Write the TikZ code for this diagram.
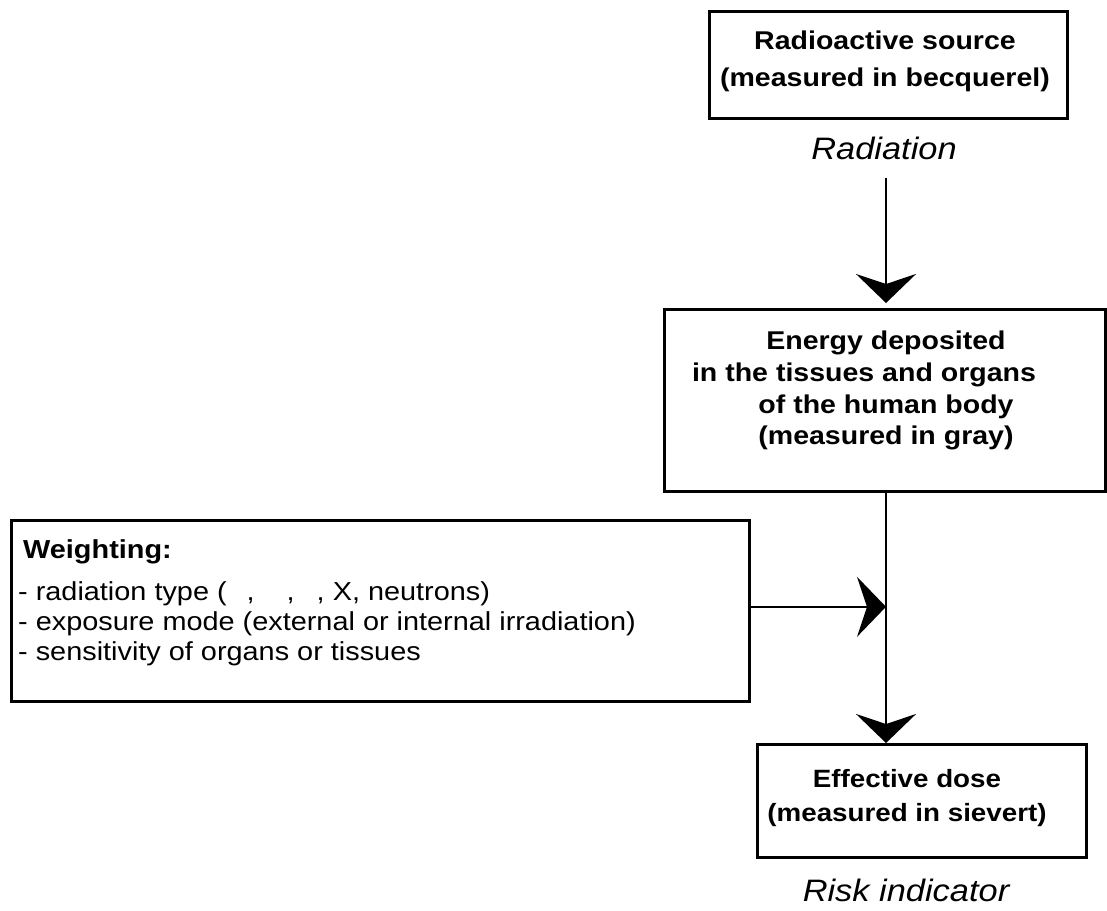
\documentclass[tikz,border=0pt]{standalone}
\usepackage{fontspec}
\setmainfont{Liberation Sans}[FakeStretch=1.11]
\usetikzlibrary{arrows.meta}
\begin{document}
\begin{tikzpicture}[x=1pt,y=-1pt,
  box/.style={draw, line width=2.6pt, inner sep=0pt, anchor=north west},
  btxt/.style={inner sep=0pt, align=center, font=\fontsize{25.7}{36.7}\selectfont\bfseries},
  itxt/.style={inner sep=0pt, anchor=base, font=\fontsize{31}{36}\selectfont\itshape},
  arr/.style={line width=2pt, -{Stealth[length=29pt,width=60pt,inset=10pt]}}]
\useasboundingbox (0,0) rectangle (1107,910);
% boxes
\node[box, minimum width=358pt, minimum height=107pt] (src) at (708,10) {};
\node[box, minimum width=441pt, minimum height=182pt] (dep) at (663,308) {};
\node[box, minimum width=738pt, minimum height=181pt] (wgt) at (10,519) {};
\node[box, minimum width=329pt, minimum height=113pt] (eff) at (756,743) {};
% texts
\node[btxt] (srct) at (885,61.6) {Radioactive source\\(measured in becquerel)};
\node[btxt, font=\fontsize{25.7}{31.7}\selectfont\bfseries] (dept) at (886,390.7)
  {Energy deposited\\in the tissues and organs\kern44pt\\of the human body\\(measured in gray)};
\node[btxt, font=\fontsize{25}{34}\selectfont\bfseries] (efft) at (907,798)
  {Effective dose\\(measured in sievert)};
\node[inner sep=0pt, anchor=north west, align=left, font=\fontsize{26}{30}\selectfont] (wgtt) at (18,539)
  {\hspace*{5pt}\textbf{Weighting:}\\[12pt]
   - radiation type (\hspace{20pt},\hspace{32pt},\hspace{22pt}, X, neutrons)\\
   - exposure mode (external or internal irradiation)\\
   - sensitivity of organs or tissues};
\node[itxt] (radl) at (884,159) {Radiation};
\node[itxt] (riskl) at (906,901) {Risk indicator};
% connectors
\coordinate (axis) at (886,0);
\draw[arr, shorten <=18pt, shorten >=5pt] (radl.south -| axis) -- (dep.north -| axis);
\draw[arr] (dep.south -| axis) -- (eff.north -| axis);
\draw[arr] ([yshift=4pt]wgt.east) -- ([yshift=4pt]wgt.east -| axis);
\end{tikzpicture}
\end{document}
